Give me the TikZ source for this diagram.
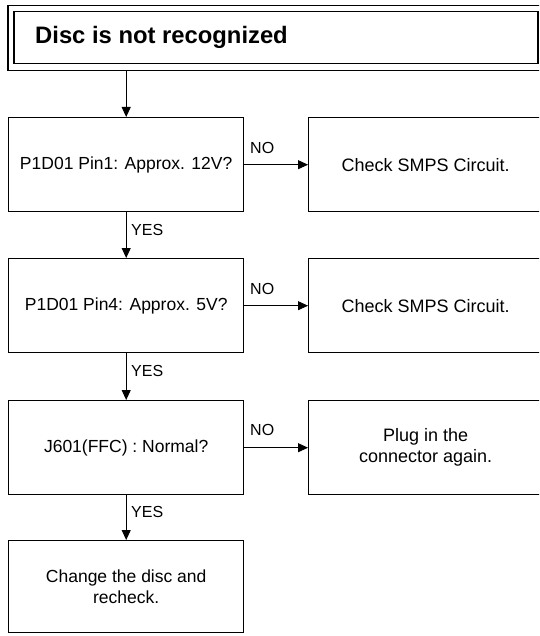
\documentclass[tikz,border=0pt]{standalone}
\usepackage{fontspec}
\setmainfont{Liberation Sans}
\usetikzlibrary{arrows.meta}
\begin{document}
\begin{tikzpicture}[x=1pt,y=-1pt,
  box/.style={draw, line width=1.4pt, minimum width=235pt, minimum height=94pt, anchor=north west, inner sep=0pt, font=\fontsize{17.5}{21}\selectfont, align=center},
  rbox/.style={draw, line width=1.4pt, minimum width=234pt, minimum height=94pt, anchor=north west, inner sep=0pt, font=\fontsize{18}{21}\selectfont, align=center},
  lbl/.style={font=\fontsize{16}{18}\selectfont, anchor=west, inner sep=0pt},
  arr/.style={-{Triangle[length=10pt,width=9pt]}, line width=0.9pt}]
\useasboundingbox (0,0) rectangle (539,636);
\clip (0,0) rectangle (539,636);
% title
\node[draw, line width=1.5pt, minimum width=535pt, minimum height=65pt, anchor=north west, inner sep=0pt] (titleouter) at (7,5) {};
\node[draw, line width=1.5pt, minimum width=524pt, minimum height=52pt, anchor=north west, inner sep=0pt] (titleinner) at (13,11) {};
\node[anchor=base west, inner sep=0pt, font=\fontsize{23.8}{28}\selectfont\bfseries] (titletext) at (35,44) {Disc is not recognized};
% left column
\node[box] (q1) at (8,117) {P1D01 Pin1: Approx. 12V?};
\node[box] (q2) at (8,258) {P1D01 Pin4: Approx. 5V?};
\node[box] (q3) at (8,400) {J601(FFC) : Normal?};
\node[box, minimum height=92pt] (fin) at (8,540) {Change the disc and\\recheck.};
% right column
\node[rbox] (r1) at (308,117) {Check SMPS Circuit.};
\node[rbox] (r2) at (308,258) {Check SMPS Circuit.};
\node[rbox] (r3) at (308,400) {Plug in the\\connector again.};
% connectors
\draw[arr] (titleouter.south -| q1.north) -- (q1.north);
\draw[arr] (q1) -- (q2);
\draw[arr] (q2) -- (q3);
\draw[arr] (q3) -- (fin);
\draw[arr] (q1) -- (r1);
\draw[arr] (q2) -- (r2);
\draw[arr] (q3) -- (r3);
% labels
\node[lbl] (yes1) at (131,229.5) {YES};
\node[lbl] (yes2) at (131,371) {YES};
\node[lbl] (yes3) at (131,512) {YES};
\node[lbl] (no1) at (250,147.5) {NO};
\node[lbl] (no2) at (250,288.5) {NO};
\node[lbl] (no3) at (250,430) {NO};
\end{tikzpicture}
\end{document}
